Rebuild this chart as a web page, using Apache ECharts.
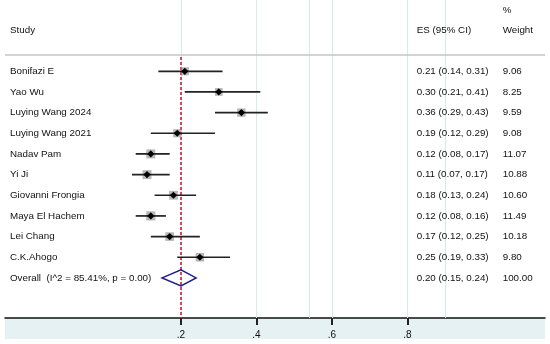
<!DOCTYPE html>
<html>
<head>
<meta charset="utf-8">
<script src="https://cdn.jsdelivr.net/npm/echarts@6/dist/echarts.min.js"></script>
<style>html,body{margin:0;padding:0;background:#fff}#c{width:550px;height:344px}</style>
</head>
<body>
<div id="c"></div>
<script>
// ---- data ----
const studies = ['Bonifazi E','Yao Wu','Luying Wang 2024','Luying Wang 2021','Nadav Pam','Yi Ji','Giovanni Frongia','Maya El Hachem','Lei Chang','C.K.Ahogo'];
const es      = [0.21, 0.30, 0.36, 0.19, 0.12, 0.11, 0.18, 0.12, 0.17, 0.25];
const lo      = [0.14, 0.21, 0.29, 0.12, 0.08, 0.07, 0.13, 0.08, 0.12, 0.19];
const hi      = [0.31, 0.41, 0.43, 0.29, 0.17, 0.17, 0.24, 0.16, 0.25, 0.33];
const weights = [9.06, 8.25, 9.59, 9.08, 11.07, 10.88, 10.60, 11.49, 10.18, 9.80];
const overallLabel = 'Overall  (I^2 = 85.41%, p = 0.00)';
const overallES = 0.20, overallLo = 0.15, overallHi = 0.24, overallWeight = 100.00;
const xTicks = [0.2, 0.4, 0.6, 0.8];
const refValue = 0.2;
const guideLines = [0.2, 0.4, 0.5364, 0.6, 0.8, 0.8993];
const headers = { study: 'Study', es: 'ES (95% CI)', pct: '%', weight: 'Weight' };

// ---- layout ----
const X_MIN = -0.26623, X_MAX = 1.16423;
const Y_MIN = -3.45, Y_MAX = 11.94;
const COL_ES = 0.8244, COL_W = 1.0522;
const HEADER_ROW = -2, PCT_ROW = -2.93, SEP_ROW = -0.79;
const FONT = '9.8px "Liberation Sans", Arial, sans-serif';
const TXT = '#111';

const nRows = studies.length + 1;
const f2 = v => v.toFixed(2);

function textEl(x, y, t, align) {
  return { type: 'text', style: { x: x, y: y, text: t, fill: TXT, font: FONT, align: align || 'left', verticalAlign: 'middle' } };
}

function renderRow(params, api) {
  const i = params.dataIndex;
  const cs = params.coordSys;
  const y = api.coord([0, i])[1];
  const isOverall = i === studies.length;
  const name = isOverall ? overallLabel : studies[i];
  const e = isOverall ? overallES : es[i];
  const l = isOverall ? overallLo : lo[i];
  const h = isOverall ? overallHi : hi[i];
  const w = isOverall ? overallWeight : weights[i];
  const xe = api.coord([e, i])[0];
  const xl = api.coord([l, i])[0];
  const xh = api.coord([h, i])[0];
  const children = [];
  children.push(textEl(cs.x + 5, y, name));
  children.push(textEl(api.coord([COL_ES, i])[0], y, f2(e) + ' (' + f2(l) + ', ' + f2(h) + ')'));
  children.push(textEl(api.coord([COL_W, i])[0], y, f2(w)));
  if (isOverall) {
    children.push({ type: 'polygon', shape: { points: [[xl, y], [xe, y - 8], [xh, y], [xe, y + 8]] },
      style: { fill: 'none', stroke: '#1f1f8a', lineWidth: 1.5 } });
  } else {
    const s = 2.7 * Math.sqrt(w);
    children.push({ type: 'rect', shape: { x: xe - s / 2, y: y - s / 2, width: s, height: s },
      style: { fill: 'rgba(145,145,145,0.65)' } });
    children.push({ type: 'line', shape: { x1: xl, y1: y, x2: xh, y2: y },
      style: { stroke: '#222', lineWidth: 1.7 } });
    const r = 3.6;
    children.push({ type: 'polygon', shape: { points: [[xe - r, y], [xe, y - r], [xe + r, y], [xe, y + r]] },
      style: { fill: '#000' } });
  }
  return { type: 'group', children: children };
}

function renderHeader(params, api) {
  const cs = params.coordSys;
  const y = api.coord([0, HEADER_ROW])[1];
  const yp = api.coord([0, PCT_ROW])[1];
  return { type: 'group', children: [
    textEl(cs.x + 5, y, headers.study),
    textEl(api.coord([COL_ES, 0])[0], y, headers.es),
    textEl(api.coord([COL_W, 0])[0], yp, headers.pct),
    textEl(api.coord([COL_W, 0])[0], y, headers.weight)
  ]};
}

const rowData = [];
for (let i = 0; i < nRows; i++) rowData.push([i]);

const chart = echarts.init(document.getElementById('c'), null, { renderer: 'canvas' });
chart.setOption({
  animation: false,
  backgroundColor: '#fff',
  grid: [
    { left: 5, right: 5, top: 0, bottom: 26 },
    { left: 5, right: 5, top: 318, height: 21, show: true, backgroundColor: '#e6f1f3', borderWidth: 0 }
  ],
  xAxis: [
    { type: 'value', gridIndex: 0, min: X_MIN, max: X_MAX, splitLine: { show: false },
      axisLine: { show: true, onZero: false, lineStyle: { color: '#111', width: 1.5 } },
      axisTick: { show: true, customValues: xTicks, length: 7, lineStyle: { color: '#222', width: 2 } },
      axisLabel: { show: true, customValues: xTicks, margin: 12, fontSize: 10, color: '#111',
        fontFamily: '"Liberation Sans", Arial, sans-serif',
        formatter: v => String(v).replace(/^0/, '') } },
    { type: 'value', gridIndex: 1, show: false, min: 0, max: 1 }
  ],
  yAxis: [
    { type: 'value', gridIndex: 0, inverse: true, min: Y_MIN, max: Y_MAX, show: false },
    { type: 'value', gridIndex: 1, show: false, min: 0, max: 1 }
  ],
  series: [
    { type: 'line', data: [], xAxisIndex: 0, yAxisIndex: 0, silent: true,
      markLine: { silent: true, symbol: 'none', label: { show: false }, animation: false,
        lineStyle: { color: '#d6eaea', width: 1, type: 'solid' },
        data: guideLines.map(v => ({ xAxis: v })) } },
    { type: 'line', data: [], xAxisIndex: 0, yAxisIndex: 0, silent: true,
      markLine: { silent: true, symbol: 'none', label: { show: false }, animation: false,
        lineStyle: { color: '#c4c4c4', width: 1.5, type: 'solid' },
        data: [[{ coord: [X_MIN, SEP_ROW] }, { coord: [X_MAX, SEP_ROW] }]] } },
    { type: 'line', data: [], xAxisIndex: 0, yAxisIndex: 0, silent: true, z: 3,
      markLine: { silent: true, symbol: 'none', label: { show: false }, animation: false,
        lineStyle: { color: '#c8102e', width: 1.5, type: [3, 2] },
        data: [[{ coord: [refValue, SEP_ROW + 0.1] }, { coord: [refValue, Y_MAX] }]] } },
    { type: 'custom', xAxisIndex: 0, yAxisIndex: 0, clip: false, z: 5, renderItem: renderRow, data: rowData },
    { type: 'custom', xAxisIndex: 0, yAxisIndex: 0, clip: false, z: 5, renderItem: renderHeader, data: [[0]] }
  ]
});
</script>
</body>
</html>
